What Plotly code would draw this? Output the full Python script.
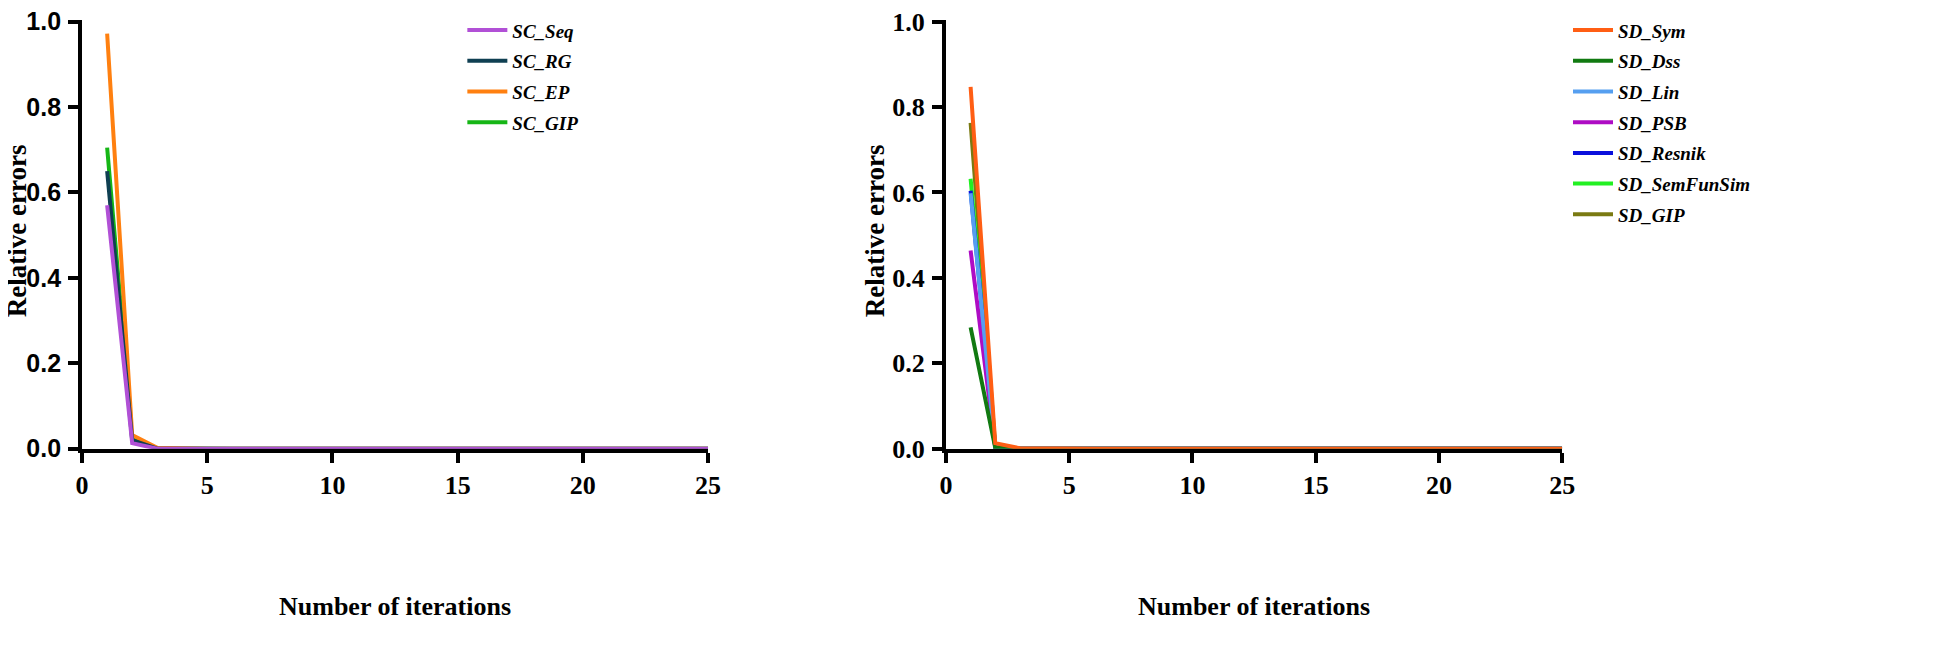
import plotly.graph_objects as go

iterations = list(range(1, 26))

# left panel: SC methods
sc_names = ['SC_Seq', 'SC_RG', 'SC_EP', 'SC_GIP']
sc_colors = ['#B150D6', '#0F3F52', '#FF8010', '#16B616']
sc_seq = [0.570, 0.013] + [0.0] * 23
sc_rg = [0.650, 0.020] + [0.0] * 23
sc_ep = [0.972, 0.032, 0.002] + [0.0] * 22
sc_gip = [0.705, 0.024, 0.001] + [0.0] * 22
sc_values = [sc_seq, sc_rg, sc_ep, sc_gip]

# right panel: SD methods
sd_names = ['SD_Sym', 'SD_Dss', 'SD_Lin', 'SD_PSB', 'SD_Resnik', 'SD_SemFunSim', 'SD_GIP']
sd_colors = ['#FF5E14', '#117A11', '#569FF0', '#AE0CC4', '#0A10DC', '#22F022', '#7A7A12']
sd_sym = [0.847, 0.013, 0.001] + [0.0] * 22
sd_dss = [0.284, 0.002] + [0.0] * 23
sd_lin = [0.598, 0.003] + [0.0] * 23
sd_psb = [0.464, 0.003] + [0.0] * 23
sd_resnik = [0.604, 0.003] + [0.0] * 23
sd_semfunsim = [0.632, 0.004] + [0.0] * 23
sd_gip = [0.763, 0.005] + [0.0] * 23
sd_values = [sd_sym, sd_dss, sd_lin, sd_psb, sd_resnik, sd_semfunsim, sd_gip]

x_ticks = [0, 5, 10, 15, 20, 25]
y_ticks = [0.0, 0.2, 0.4, 0.6, 0.8, 1.0]

SERIF = 'Liberation Serif, Times New Roman, serif'
SANS = 'Liberation Sans, Arial, sans-serif'

fig = go.Figure()

# draw in reverse so the first legend entry sits on top; legendrank keeps legend order
sc_items = list(enumerate(zip(sc_names, sc_colors, sc_values)))
for i, (name, color, vals) in reversed(sc_items):
    fig.add_trace(go.Scatter(
        x=iterations, y=vals, name=name, mode='lines',
        line=dict(color=color, width=4),
        xaxis='x', yaxis='y', legend='legend',
        legendgroup=name, legendrank=(i + 1) * 10
    ))

sd_items = list(enumerate(zip(sd_names, sd_colors, sd_values)))
for i, (name, color, vals) in reversed(sd_items):
    fig.add_trace(go.Scatter(
        x=iterations, y=vals, name=name, mode='lines',
        line=dict(color=color, width=4),
        xaxis='x2', yaxis='y2', legend='legend2',
        legendgroup=name, legendrank=(i + 1) * 10
    ))

axis_common = dict(
    showgrid=False, zeroline=False, showline=True, linecolor='black',
    linewidth=4, ticks='outside', ticklen=10, tickwidth=4, tickcolor='black',
    automargin=False, layer='below traces', ticklabeloverflow='allow'
)

legend_common = dict(
    font=dict(family=SERIF, size=19, color='black', style='italic', weight='bold'),
    bgcolor='rgba(0,0,0,0)', borderwidth=0,
    traceorder='grouped', tracegroupgap=3,
    itemwidth=40, yanchor='top', xanchor='left'
)

x_dom1 = [0.038, 0.359]
x_dom2 = [0.481, 0.797]
y_dom = [0.322, 0.981]

fig.update_layout(
    width=1950, height=650,
    margin=dict(l=0, r=0, t=0, b=0),
    paper_bgcolor='white', plot_bgcolor='white',
    showlegend=True,
    xaxis=dict(
        axis_common, domain=x_dom1, anchor='y', range=[0, 25],
        tickvals=x_ticks, tickfont=dict(family=SERIF, size=26, color='black', weight='bold')
    ),
    yaxis=dict(
        axis_common, domain=y_dom, anchor='x', range=[0, 1.003],
        tickvals=y_ticks, tickformat='.1f', ticklabelstandoff=2,
        tickfont=dict(family=SANS, size=25, color='black', weight='bold')
    ),
    xaxis2=dict(
        axis_common, domain=x_dom2, anchor='y2', range=[0, 25],
        tickvals=x_ticks, tickfont=dict(family=SERIF, size=26, color='black', weight='bold')
    ),
    yaxis2=dict(
        axis_common, domain=y_dom, anchor='x2', range=[0, 1.003],
        tickvals=y_ticks, tickformat='.1f', ticklabelstandoff=2,
        tickfont=dict(family=SERIF, size=26, color='black', weight='bold')
    ),
    legend=dict(legend_common, x=0.233, y=0.995),
    legend2=dict(legend_common, x=0.800, y=0.995),
)

# axis titles as annotations for exact placement
for xc in [(x_dom1[0] + x_dom1[1]) / 2, (x_dom2[0] + x_dom2[1]) / 2]:
    fig.add_annotation(x=xc, y=0.080, xref='paper', yref='paper',
                       text='<b>Number of iterations</b>', showarrow=False,
                       font=dict(family=SERIF, size=26, color='black'),
                       xanchor='center', yanchor='middle')
for xc in [0.0, 858 / 1950]:
    fig.add_annotation(x=xc, y=(y_dom[0] + y_dom[1]) / 2 + 0.005, xref='paper', yref='paper',
                       text='<b>Relative errors</b>', textangle=-90, showarrow=False,
                       font=dict(family=SERIF, size=27, color='black'),
                       xanchor='left', yanchor='middle', xshift=-8)

fig.write_html('out.html')
